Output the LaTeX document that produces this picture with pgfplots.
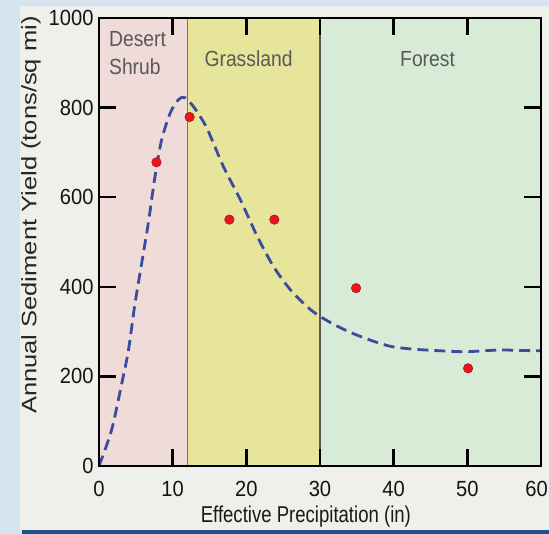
\documentclass[border=0pt]{standalone}
\usepackage{fontspec}
\setmainfont{Liberation Sans}
\newfontfamily\ticksfont{Liberation Sans}[FakeStretch=0.92]
\newfontfamily\xlabfont{Liberation Sans}[FakeStretch=0.81]
\newfontfamily\regfont{Liberation Sans}[FakeStretch=0.88]
\newfontfamily\ylabfont{Liberation Sans}[FakeStretch=1.22]
\usepackage{pgfplots}
\pgfplotsset{compat=1.18}
\definecolor{bgblue}{HTML}{D6E4F0}
\definecolor{panel}{HTML}{EFEFEC}
\definecolor{navy}{HTML}{23508F}
\definecolor{desert}{HTML}{EFDCD8}
\definecolor{grass}{HTML}{E7E49B}
\definecolor{forest}{HTML}{D7EBD7}
\definecolor{curve}{HTML}{3A4C9E}
\definecolor{pt}{HTML}{E8141E}
\begin{document}
\begin{tikzpicture}
\fill[bgblue] (-99bp,-68bp) rectangle (450bp,466bp);
\fill[panel] (-79bp,-64bp) rectangle (450bp,460bp);
\fill[navy] (-77bp,-68bp) rectangle (450bp,-64bp);
\begin{axis}[
  at={(0,0)}, anchor=south west,
  scale only axis, width=442bp, height=448bp,
  xmin=0, xmax=60, ymin=0, ymax=1000,
  xtick={0,10,...,60}, ytick={0,200,...,1000},
  xticklabels={0,10,20,30,40,50,{\makebox[0pt]{\hspace*{-9bp}60}}},
  tick align=inside, major tick length=17bp,
  every tick/.style={black, line width=2.5bp},
  axis line style={black, line width=2.5bp},
  axis on top,
  /pgf/number format/assume math mode=true,
  /pgf/number format/1000 sep={},
  ticklabel style={font=\ticksfont\fontsize{22}{24}\selectfont, text=black!92},
  xticklabel style={yshift=-12bp},
  yticklabel style={xshift=-2bp},
  xlabel={Effective Precipitation (in)},
  ylabel={Annual Sediment Yield (tons/sq mi)},
  xlabel style={font=\xlabfont\fontsize{23}{24}\selectfont, text=black!90, at={(axis description cs:0.468,-0.112)}, anchor=center},
  ylabel style={font=\ylabfont\fontsize{21}{24}\selectfont, text=black!85, at={(axis description cs:-0.154,0.56)}, anchor=center},
  clip=true,
]
\addplot[fill=desert, draw=none] coordinates {(0,1000) (12,1000)} \closedcycle;
\addplot[fill=grass, draw=none] coordinates {(12,1000) (30,1000)} \closedcycle;
\addplot[fill=forest, draw=none] coordinates {(30,1000) (60,1000)} \closedcycle;
\addplot[black!55, line width=1.5bp] coordinates {(12,0) (12,1000)};
\addplot[black!65, line width=1.5bp] coordinates {(30,0) (30,1000)};
\addplot[curve, line width=2.8bp, dash pattern=on 11bp off 6bp, smooth, tension=0.5] coordinates {
(0,0) (1.7,80) (3.1,185) (4.0,259) (4.9,364) (5.8,453) (6.7,543) (7.6,646) (8.5,728) (9.7,789) (10.8,818) (11.7,822) (13.1,796) (14.7,752) (16.9,668) (19.2,594) (21.5,512) (23.7,445) (26.0,393) (28.3,355) (29.8,336) (32,315) (34.3,297) (37,280) (39.6,267) (42.5,261) (45.4,258) (49.5,255) (52,257) (54.6,259) (57,258) (60,257)
};
\addplot[only marks, mark=*, mark size=4.8bp, mark options={fill=pt, draw=pt!70!black, line width=0.4bp}] coordinates {
(7.8,678) (12.3,779) (17.7,550) (23.8,550) (34.9,397) (50.1,218)
};
\node[font=\regfont\fontsize{22}{28}\selectfont, text=black!65, align=left, anchor=north west] at (axis cs:0.9,978) {Desert\\Shrub};
\node[font=\regfont\fontsize{22}{24}\selectfont, text=black!65, anchor=center] at (axis cs:20.3,909) {Grassland};
\node[font=\regfont\fontsize{22}{24}\selectfont, text=black!65, anchor=center] at (axis cs:44.6,909) {Forest};
\end{axis}
\pgfresetboundingbox
\path[use as bounding box] (-99bp,-68bp) rectangle (450bp,466bp);
\end{tikzpicture}
\end{document}
